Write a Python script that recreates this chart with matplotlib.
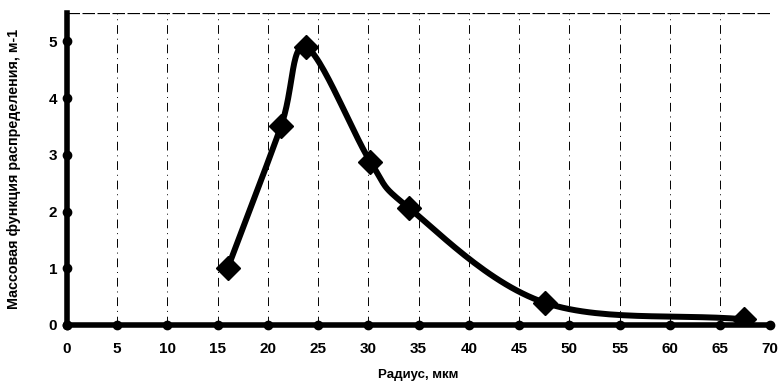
import numpy as np
import matplotlib.pyplot as plt

# Радиус, мкм и массовая функция распределения
radius = [16.0, 21.3, 23.8, 30.2, 34.0, 47.6, 67.4]
mass_func = [1.0, 3.5, 4.9, 2.88, 2.07, 0.39, 0.1]

x_ticks = list(range(0, 75, 5))
y_ticks = [0, 1, 2, 3, 4, 5]


def smooth_curve(x, y, n=30):
    # Catmull-Rom spline through the points (like a smoothed line in a spreadsheet)
    x = np.asarray(x, float)
    y = np.asarray(y, float)
    px = np.concatenate([[2 * x[0] - x[1]], x, [2 * x[-1] - x[-2]]])
    py = np.concatenate([[2 * y[0] - y[1]], y, [2 * y[-1] - y[-2]]])
    xs, ys = [], []
    t = np.linspace(0, 1, n)
    for i in range(1, len(px) - 2):
        for p, out in ((px, xs), (py, ys)):
            p0, p1, p2, p3 = p[i - 1], p[i], p[i + 1], p[i + 2]
            out.extend(0.5 * (2 * p1 + (-p0 + p2) * t
                              + (2 * p0 - 5 * p1 + 4 * p2 - p3) * t ** 2
                              + (-p0 + 3 * p1 - 3 * p2 + p3) * t ** 3))
    return np.array(xs), np.array(ys)


plt.rcParams['font.family'] = ['Liberation Sans', 'DejaVu Sans']

fig = plt.figure(figsize=(7.78, 3.85), dpi=100)
ax = fig.add_axes([0.086, 0.156, 0.904, 0.81])

for xv in x_ticks[1:]:
    ax.axvline(xv, color='black', lw=0.7, ls=(0, (9, 5, 1, 5)), zorder=1)
ax.axhline(5.5, color='black', lw=0.9, ls=(0, (10, 2)), zorder=1)

sx, sy = smooth_curve(radius, mass_func)
ax.plot(sx, sy, color='black', lw=4.3, solid_capstyle='round', zorder=3)
ax.plot(radius, mass_func, ls='none', marker='D', ms=12, color='black', zorder=4)

ax.set_xlim(0, 70)
ax.set_ylim(0, 5.5)
ax.set_xticks(x_ticks)
ax.set_yticks(y_ticks)

for s in ('top', 'right'):
    ax.spines[s].set_visible(False)
for s in ('left', 'bottom'):
    ax.spines[s].set_linewidth(4)
    ax.spines[s].set_zorder(5)

ax.tick_params(axis='x', length=0, labelsize=11, pad=12)
ax.tick_params(axis='y', length=0, labelsize=11, pad=7)
for lab in ax.get_xticklabels() + ax.get_yticklabels():
    lab.set_fontweight('bold')
# dots at tick positions
ax.plot(x_ticks, [0] * len(x_ticks), 'o', color='black', ms=6, clip_on=False, zorder=6)
ax.plot([0] * len(y_ticks), y_ticks, 'o', color='black', ms=6, clip_on=False, zorder=6)

ax.set_xlabel('Радиус, мкм', fontsize=9.5, fontweight='bold', labelpad=10)
ax.set_ylabel('Массовая функция распределения, м-1', fontsize=10.3, fontweight='bold', labelpad=20)

fig.savefig('out.png', dpi=100)
